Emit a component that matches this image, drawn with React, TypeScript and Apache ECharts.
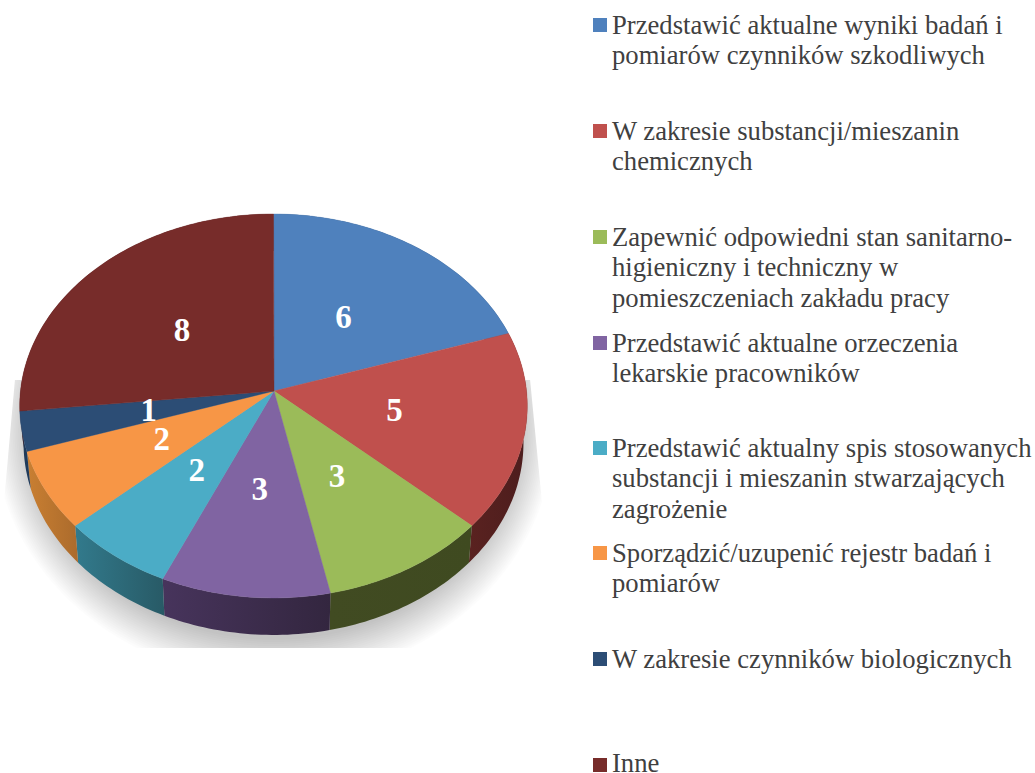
import React, { useEffect, useRef } from "react";
import * as echarts from "echarts";

const categories = [
  ["Przedstawić aktualne wyniki badań i", "pomiarów czynników szkodliwych"],
  ["W zakresie substancji/mieszanin", "chemicznych"],
  ["Zapewnić odpowiedni stan sanitarno-", "higieniczny i techniczny w", "pomieszczeniach zakładu pracy"],
  ["Przedstawić aktualne orzeczenia", "lekarskie pracowników"],
  ["Przedstawić aktualny spis stosowanych", "substancji i mieszanin stwarzających", "zagrożenie"],
  ["Sporządzić/uzupenić rejestr badań i", "pomiarów"],
  ["W zakresie czynników biologicznych"],
  ["Inne"],
];
const values = [6, 5, 3, 3, 2, 2, 1, 8];
const colors = ["#4f81bd", "#c0504d", "#9bbb59", "#8064a2", "#4bacc6", "#f79646", "#2c4d75", "#772c2a"];
const wallFrom = ["#2f4d71", "#5a2220", "#414b22", "#47345c", "#327a8c", "#c97f32", "#1f3a5a", "#4a1b1a"];
const wallTo = ["#2f4d71", "#4c1d1d", "#3f4a20", "#33263f", "#285a66", "#ab6b2c", "#1f3a5a", "#4a1b1a"];

const legendY = [24.5, 130.5, 236.5, 342.5, 447.5, 552.5, 658.5, 763];
const markerY = [25, 131, 237, 343, 448, 553, 659, 765];

const CX = 273.5;
const CY = 391;
const A = 253;
const B = 190.8;
const K = 0.078;
const DEPTH = 37;
const BOTTOM_SCALE = 0.985;
const total = values.reduce((a, b) => a + b, 0);

function project(theta: number, r = 1, dy = 0, scale = 1): number[] {
  const w = 1 / (1 + K * r * Math.cos(theta));
  return [CX + A * scale * r * Math.sin(theta) * w, CY + dy - B * r * Math.cos(theta) * w];
}

function sliceAngles(i: number): number[] {
  let before = 0;
  for (let k = 0; k < i; k++) before += values[k];
  return [(before / total) * Math.PI * 2, ((before + values[i]) / total) * Math.PI * 2];
}

function rim(t0: number, t1: number, dy = 0, scale = 1): number[][] {
  const n = Math.max(4, Math.ceil((t1 - t0) / 0.02));
  const pts: number[][] = [];
  for (let j = 0; j <= n; j++) pts.push(project(t0 + ((t1 - t0) * j) / n, 1, dy, scale));
  return pts;
}

function renderWall(params: any) {
  const i = params.dataIndex;
  const [t0, t1] = sliceAngles(i);
  const pts = rim(t0, t1).concat(rim(t0, t1, DEPTH, BOTTOM_SCALE).reverse());
  return {
    type: "polygon",
    shape: { points: pts },
    style: {
      fill: new echarts.graphic.LinearGradient(0, 0, 1, 0, [
        { offset: 0, color: wallFrom[i] },
        { offset: 1, color: wallTo[i] },
      ]),
    },
  };
}

function renderTop(params: any, api: any) {
  const i = params.dataIndex;
  const [t0, t1] = sliceAngles(i);
  const mid = (t0 + t1) / 2;
  const [lx, ly] = project(mid, 0.5);
  const x = lx > CX ? CX + (lx - CX) * 0.97 : lx;
  const y = ly < CY ? ly + 1 : ly - 1;
  return {
    type: "group",
    children: [
      {
        type: "polygon",
        shape: { points: [[CX + 0.5, CY], ...rim(t0, t1)] },
        style: { fill: colors[i], stroke: colors[i], lineWidth: 0.4 },
      },
      {
        type: "text",
        z2: 10,
        style: {
          x,
          y,
          text: String(api.value(0)),
          fill: "#ffffff",
          font: 'bold 33px "Liberation Serif"',
          align: "center",
          verticalAlign: "middle",
        },
      },
    ],
  };
}

function legendGraphics() {
  const out: any[] = [];
  categories.forEach((lines, i) => {
    out.push({
      type: "rect",
      z: 5,
      shape: { x: 593, y: markerY[i] - 7, width: 14, height: 14 },
      style: { fill: colors[i] },
    });
    lines.forEach((line, j) => {
      out.push({
        type: "text",
        z: 5,
        x: 612,
        y: legendY[i] + j * 30.5,
        style: {
          text: line,
          fill: "#404040",
          font: '26.65px "Liberation Serif"',
          lineHeight: 18,
          align: "left",
          verticalAlign: "middle",
        },
      });
    });
  });
  return out;
}

// soft floor shadow: concentric translucent ellipses, outermost first
function shadowGraphics() {
  const out: any[] = [];
  const steps = 20;
  for (let s = 0; s < steps; s++) {
    const f = s / (steps - 1);
    out.push({
      type: "ellipse",
      z: 0,
      silent: true,
      shape: { cx: 274, cy: 430, rx: 280 - 35 * f, ry: 250 - 40 * f },
      style: { fill: "rgba(0,0,0,0.0105)" },
    });
  }
  return out;
}

export default function App() {
  const ref = useRef<HTMLDivElement>(null);
  useEffect(() => {
    document.body.style.margin = "0";
    const chart = echarts.init(ref.current!, undefined, { renderer: "svg" });
    const data = values.map((v) => [v]);
    chart.setOption({
      animation: false,
      backgroundColor: "#ffffff",
      graphic: {
        elements: [
          ...shadowGraphics(),
          {
            type: "rect",
            z: 1,
            silent: true,
            shape: { x: 0, y: 0, width: 585, height: 380 },
            style: { fill: "#ffffff" },
          },
          {
            type: "polygon",
            z: 1,
            silent: true,
            shape: { points: [[-5, 379], [15, 379], [3, 513], [3, 649], [-5, 649]] },
            style: { fill: "#ffffff" },
          },
          {
            type: "polygon",
            z: 1,
            silent: true,
            shape: { points: [[585, 379], [530, 379], [543, 513], [543, 649], [585, 649]] },
            style: { fill: "#ffffff" },
          },
          {
            type: "rect",
            z: 1,
            silent: true,
            shape: { x: 0, y: 648, width: 585, height: 125 },
            style: { fill: "#ffffff" },
          },
          ...legendGraphics(),
        ],
      },
      series: [
        { type: "custom", coordinateSystem: "none", z: 2, silent: true, renderItem: renderWall, data },
        { type: "custom", coordinateSystem: "none", z: 3, silent: true, renderItem: renderTop, data },
      ],
    });
    return () => chart.dispose();
  }, []);
  return <div ref={ref} style={{ position: "fixed", left: 0, top: 0, width: 1035, height: 773 }} />;
}
